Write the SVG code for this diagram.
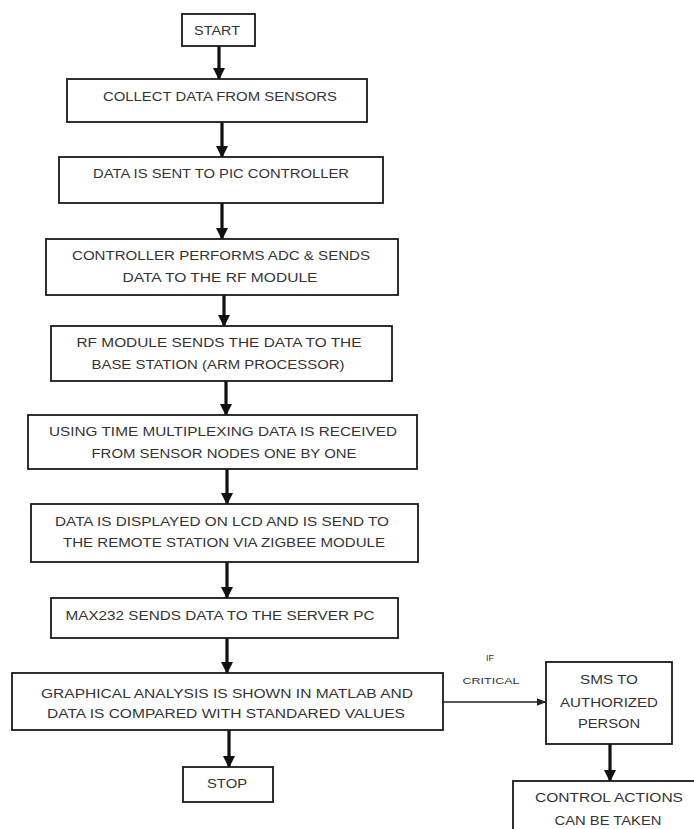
<svg xmlns="http://www.w3.org/2000/svg" width="694" height="829" viewBox="0 0 694 829">
<style>
.box{fill:#fff;stroke:#1a1a1a;stroke-width:1.8}
.t{font-family:"Liberation Sans",Arial,sans-serif;font-size:12.5px;fill:#333;text-anchor:middle}
.s{font-family:"Liberation Sans",Arial,sans-serif;font-size:9px;fill:#333;text-anchor:middle}
.thick{stroke:#111;stroke-width:3.2;fill:none}
.thin{stroke:#222;stroke-width:1.5;fill:none}
</style>
<defs>
<marker id="ah" markerUnits="userSpaceOnUse" markerWidth="12" markerHeight="12" viewBox="0 0 12 12" refX="11" refY="6" orient="auto">
<path d="M0,0 L12,6 L0,12 z" fill="#111"/>
</marker>
<marker id="ahs" markerUnits="userSpaceOnUse" markerWidth="10" markerHeight="10" viewBox="0 0 10 10" refX="9.5" refY="5" orient="auto">
<path d="M0,1 L10,5 L0,9 z" fill="#222"/>
</marker>
</defs>
<rect width="694" height="829" fill="#fff"/>
<g id="connectors">
<line class="thick" x1="219" y1="46" x2="219" y2="79" marker-end="url(#ah)"/>
<line class="thick" x1="222" y1="122" x2="222" y2="157" marker-end="url(#ah)"/>
<line class="thick" x1="222" y1="203" x2="222" y2="239" marker-end="url(#ah)"/>
<line class="thick" x1="224" y1="295" x2="224" y2="326" marker-end="url(#ah)"/>
<line class="thick" x1="226" y1="381" x2="226" y2="415" marker-end="url(#ah)"/>
<line class="thick" x1="227" y1="469" x2="227" y2="504" marker-end="url(#ah)"/>
<line class="thick" x1="227" y1="562" x2="227" y2="598" marker-end="url(#ah)"/>
<line class="thick" x1="227" y1="638" x2="227" y2="673" marker-end="url(#ah)"/>
<line class="thick" x1="229" y1="730" x2="229" y2="767" marker-end="url(#ah)"/>
<line class="thin" x1="443" y1="702" x2="546" y2="702" marker-end="url(#ahs)"/>
<line class="thick" x1="610" y1="744" x2="610" y2="781" marker-end="url(#ah)"/>
<text class="s" x="490" y="661">IF</text>
<text class="s" x="491" y="684" textLength="57" lengthAdjust="spacingAndGlyphs">CRITICAL</text>
</g>
<g id="start">
<rect class="box" x="182" y="14" width="73" height="32"/>
<text class="t" x="217" y="35" textLength="46" lengthAdjust="spacingAndGlyphs">START</text>
</g>
<g id="collect">
<rect class="box" x="67" y="79" width="300" height="43"/>
<text class="t" x="220" y="101" textLength="234" lengthAdjust="spacingAndGlyphs">COLLECT DATA FROM SENSORS</text>
</g>
<g id="sent-pic">
<rect class="box" x="59" y="157" width="324" height="46"/>
<text class="t" x="221" y="178" textLength="256" lengthAdjust="spacingAndGlyphs">DATA IS SENT TO PIC CONTROLLER</text>
</g>
<g id="adc">
<rect class="box" x="46" y="239" width="352" height="56"/>
<text class="t" x="221" y="260" textLength="298" lengthAdjust="spacingAndGlyphs">CONTROLLER PERFORMS ADC &amp; SENDS</text>
<text class="t" x="220" y="282" textLength="195" lengthAdjust="spacingAndGlyphs">DATA TO THE RF MODULE</text>
</g>
<g id="rf">
<rect class="box" x="51" y="326" width="341" height="55"/>
<text class="t" x="219" y="347" textLength="285" lengthAdjust="spacingAndGlyphs">RF MODULE SENDS THE DATA TO THE</text>
<text class="t" x="218" y="369" textLength="253" lengthAdjust="spacingAndGlyphs">BASE STATION (ARM PROCESSOR)</text>
</g>
<g id="tdm">
<rect class="box" x="28" y="415" width="389" height="54"/>
<text class="t" x="223" y="436" textLength="348" lengthAdjust="spacingAndGlyphs">USING TIME MULTIPLEXING DATA IS RECEIVED</text>
<text class="t" x="224" y="458" textLength="265" lengthAdjust="spacingAndGlyphs">FROM SENSOR NODES ONE BY ONE</text>
</g>
<g id="lcd">
<rect class="box" x="31" y="504" width="387" height="58"/>
<text class="t" x="222" y="526" textLength="334" lengthAdjust="spacingAndGlyphs">DATA IS DISPLAYED ON LCD AND IS SEND TO</text>
<text class="t" x="224" y="547" textLength="322" lengthAdjust="spacingAndGlyphs">THE REMOTE STATION VIA ZIGBEE MODULE</text>
</g>
<g id="max232">
<rect class="box" x="51" y="598" width="347" height="40"/>
<text class="t" x="220" y="620" textLength="309" lengthAdjust="spacingAndGlyphs">MAX232 SENDS DATA TO THE SERVER PC</text>
</g>
<g id="matlab">
<rect class="box" x="12" y="673" width="431" height="57"/>
<text class="t" x="227" y="698" textLength="372" lengthAdjust="spacingAndGlyphs">GRAPHICAL ANALYSIS IS SHOWN IN MATLAB AND</text>
<text class="t" x="226" y="718" textLength="358" lengthAdjust="spacingAndGlyphs">DATA IS COMPARED WITH STANDARED VALUES</text>
</g>
<g id="stop">
<rect class="box" x="183" y="767" width="90" height="35"/>
<text class="t" x="227" y="788" textLength="40" lengthAdjust="spacingAndGlyphs">STOP</text>
</g>
<g id="sms">
<rect class="box" x="546" y="662" width="126" height="82"/>
<text class="t" x="609" y="684" textLength="58" lengthAdjust="spacingAndGlyphs">SMS TO</text>
<text class="t" x="609" y="707" textLength="98" lengthAdjust="spacingAndGlyphs">AUTHORIZED</text>
<text class="t" x="609" y="728" textLength="62" lengthAdjust="spacingAndGlyphs">PERSON</text>
</g>
<g id="control">
<rect class="box" x="513" y="781" width="200" height="70"/>
<text class="t" x="609" y="802" textLength="148" lengthAdjust="spacingAndGlyphs">CONTROL ACTIONS</text>
<text class="t" x="608" y="825" textLength="107" lengthAdjust="spacingAndGlyphs">CAN BE TAKEN</text>
</g>
</svg>
